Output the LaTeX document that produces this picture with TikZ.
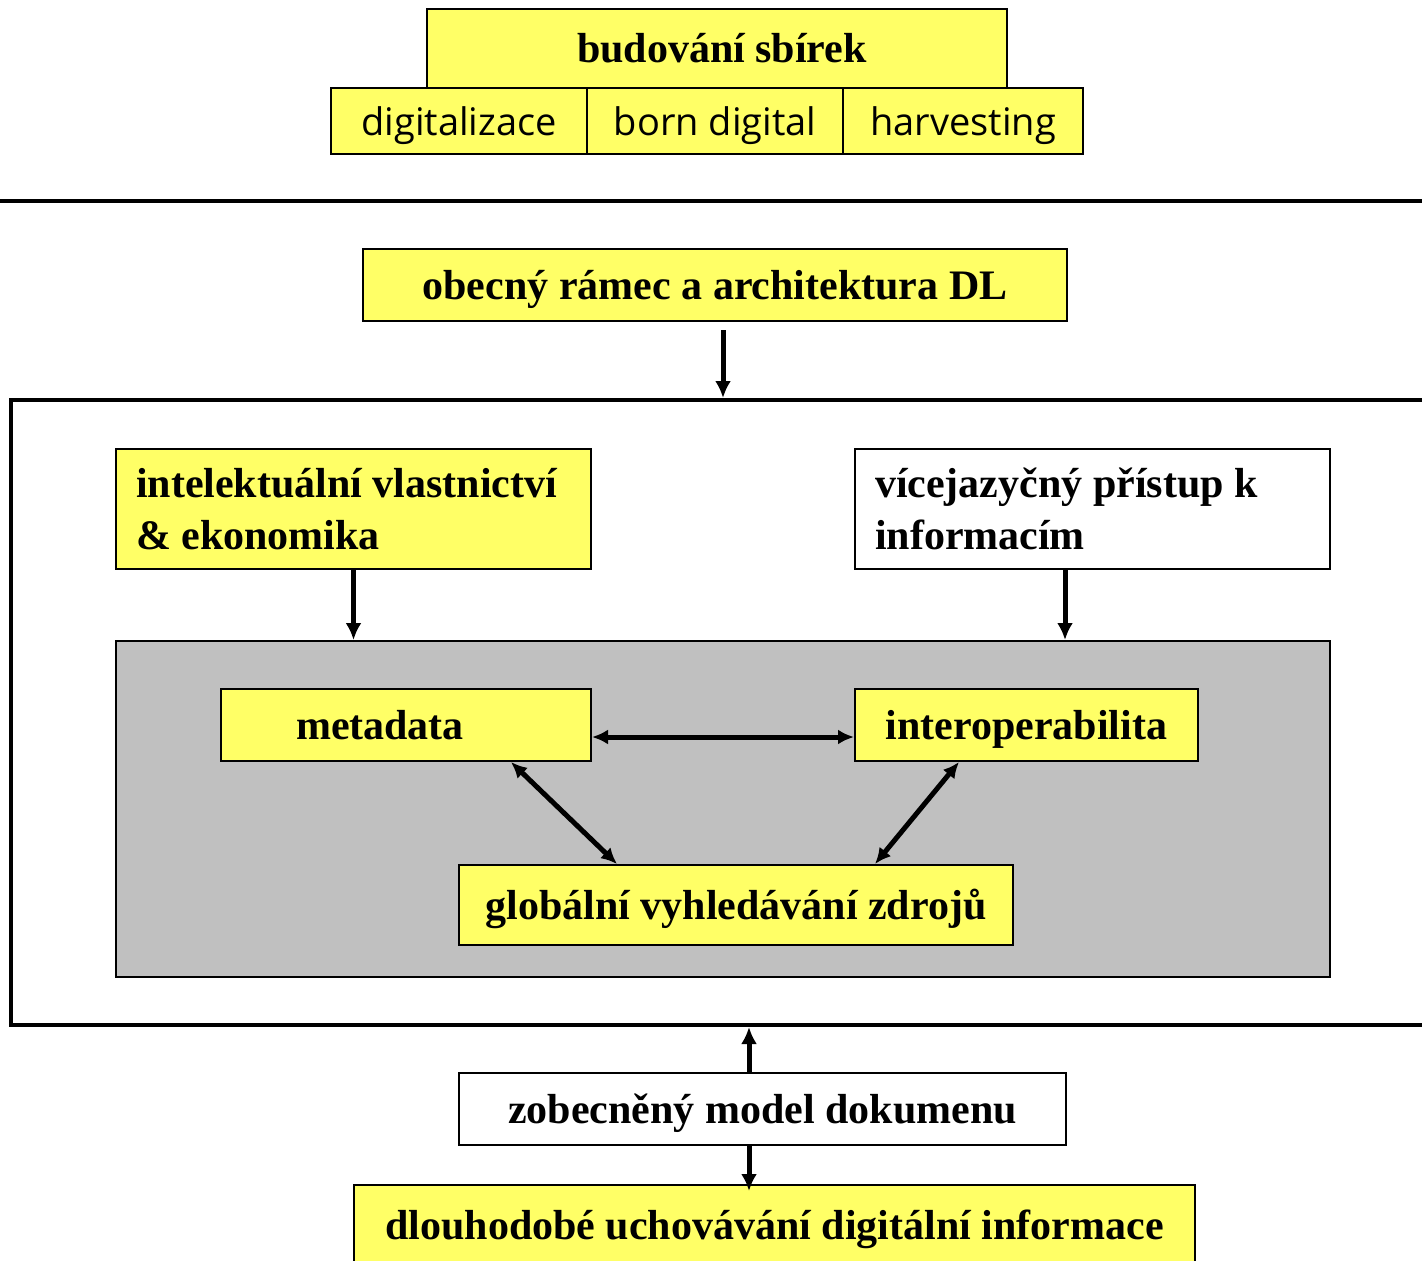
\documentclass[tikz,border=0pt]{standalone}
\usepackage{fontspec}
\setmainfont{Liberation Serif}
\newfontfamily\comic{Open Sans}
\usetikzlibrary{arrows.meta}
\definecolor{yel}{RGB}{255,255,102}
\definecolor{gry}{RGB}{192,192,192}
\begin{document}
\begin{tikzpicture}[x=1pt,y=-1pt,
  box/.style={draw,line width=2pt,inner sep=0pt,text height=36pt,text depth=8pt,font=\fontsize{42}{52}\selectfont\bfseries},
  ybox/.style={box,fill=yel},
  wbox/.style={box,fill=white},
  mbox/.style={draw,line width=2pt,inner xsep=20pt,inner ysep=0pt,align=left,font=\fontsize{42}{52}\selectfont\bfseries},
  cbox/.style={draw,line width=2pt,fill=yel,inner sep=0pt,text height=32pt,text depth=4pt,font=\comic\fontsize{38}{44}\selectfont},
  arr/.style={line width=5pt,-{Latex[length=17pt,width=16pt]}},
  darr/.style={line width=5pt,{Latex[length=16pt,width=15pt]}-{Latex[length=16pt,width=15pt]}}]
\useasboundingbox (0,0) rectangle (1422,1261);
\clip (0,0) rectangle (1422,1261);
\fill[white] (0,0) rectangle (1422,1261);

% top group
\node[ybox,minimum width=580pt,minimum height=79pt] (bud) at (717,48.5) {\rule{10pt}{0pt}budování sbírek};
\node[cbox,minimum width=256pt,minimum height=66pt] (dig) at (459,121) {digitalizace};
\node[cbox,minimum width=256pt,minimum height=66pt] (born) at (715,121) {born digital};
\node[cbox,minimum width=240pt,minimum height=66pt] (harv) at (963,121) {harvesting};

% separator line
\draw[line width=4pt] (0,201) -- (1422,201);

\node[ybox,minimum width=704pt,minimum height=72pt] (obec) at (715,285) {obecný rámec a architektura DL};

% big frame
\node[draw,line width=4pt,fill=white,minimum width=1429pt,minimum height=625pt,inner sep=0pt] (big) at (725.5,712.5) {};

\node[mbox,fill=yel,minimum width=475pt,minimum height=120pt] (intel) at (353.5,509)
  {\makebox[435pt][l]{intelektuální vlastnictví}\\\makebox[435pt][l]{\& ekonomika}};
\node[mbox,fill=white,minimum width=475pt,minimum height=120pt] (vice) at (1092.5,509)
  {\makebox[435pt][l]{vícejazyčný přístup k}\\\makebox[435pt][l]{informacím}};

\node[draw,line width=2pt,fill=gry,minimum width=1214pt,minimum height=336pt,inner sep=0pt] (gray) at (723,809) {};

\node[ybox,minimum width=370pt,minimum height=72pt] (meta) at (406,725) {metadata\rule{52pt}{0pt}};
\node[ybox,minimum width=343pt,minimum height=72pt] (inter) at (1026.5,725) {interoperabilita};
\node[ybox,minimum width=554pt,minimum height=80pt] (glob) at (736,905) {globální vyhledávání zdrojů};

\node[wbox,minimum width=607pt,minimum height=72pt] (zob) at (762.5,1109) {zobecněný model dokumenu};
\node[ybox,minimum width=841pt,minimum height=80pt] (dlou) at (774.5,1225) {dlouhodobé uchovávání digitální informace};

% connectors
\draw[arr,shorten <=8pt] ([xshift=8pt]obec.south) -- ([xshift=8pt]obec.south |- big.north);
\draw[arr] (intel.south) -- (intel.south |- gray.north);
\draw[arr] ([xshift=211pt]vice.south west) -- ([xshift=211pt]vice.south west |- gray.north);
\draw[darr] ([yshift=-12pt]meta.east) -- ([yshift=-12pt]inter.west);
\draw[darr] ([xshift=291pt]meta.south west) -- ([xshift=159pt]glob.north west);
\draw[darr] ([xshift=105pt]inter.south west) -- ([xshift=417pt]glob.north west);
\draw[arr] ([xshift=291pt]zob.north west) -- ([xshift=291pt]zob.north west |- big.south);
\draw[arr,shorten >=-7pt] ([xshift=291pt]zob.south west) -- ([xshift=291pt]zob.south west |- dlou.north);
\end{tikzpicture}
\end{document}
